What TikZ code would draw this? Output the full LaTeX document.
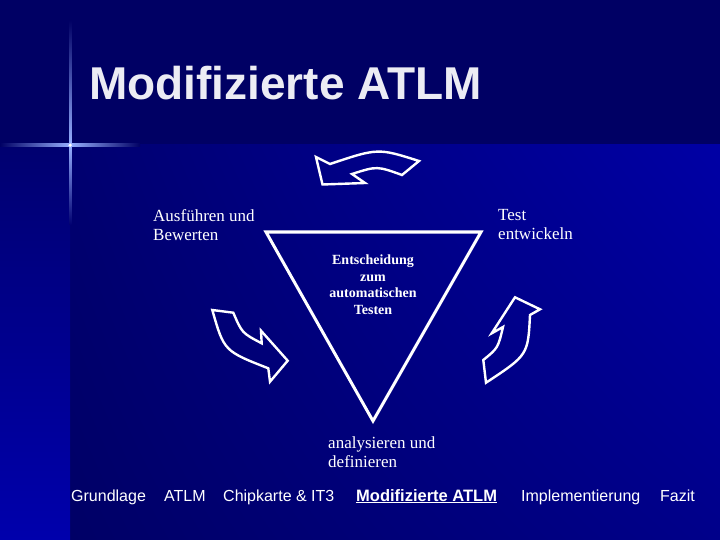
\documentclass[tikz,border=0pt]{standalone}
\usepackage{fontspec}
\setmainfont{Liberation Serif}
\setsansfont{Liberation Sans}
\usetikzlibrary{positioning,shadings}

\definecolor{bandtop}{RGB}{0,0,100}
\definecolor{bgul}{RGB}{0,0,112}
\definecolor{bgur}{RGB}{0,0,165}
\definecolor{bgll}{RGB}{0,0,102}
\definecolor{bglr}{RGB}{0,0,138}
\definecolor{stripbot}{RGB}{0,0,172}
\definecolor{flare}{RGB}{150,175,255}
\definecolor{titlecol}{RGB}{236,236,244}

\tikzstyle{lbl}=[text=white, inner sep=0pt, align=left, font=\fontsize{17}{19}\selectfont]

\begin{document}
\begin{tikzpicture}[x=1pt,y=-1pt]

\tikzstyle{nav}=[text=white, inner sep=0pt, anchor=base west, font=\sffamily\fontsize{16}{18}\selectfont]
\tikzstyle{curvarrow}=[draw=white, line width=2.4pt, line join=miter]
\tikzstyle{tri}=[draw=white, line width=3pt, line join=miter]

\useasboundingbox (0,0) rectangle (720,540);

% background
\fill[bandtop] (0,0) rectangle (720,145);
\shade[upper left=bgul, upper right=bgur, lower left=bgll, lower right=bglr] (70,145) rectangle (720,540);
\shade[top color=bgul, bottom color=stripbot] (0,145) rectangle (70,540);
\shade[left color=bandtop, right color=flare] (0,144) rectangle (70,146.5);
\shade[left color=flare, right color=bandtop] (70,144) rectangle (140,146.5);
\shade[top color=bandtop, bottom color=flare] (69,20) rectangle (71.5,145);
\shade[top color=flare, bottom color=bgul] (69,145) rectangle (71.5,225);
\fill[white] (70.2,145.2) circle (1.8);

\node (titel) [anchor=base west, inner sep=0pt, text=titlecol,
  font=\sffamily\bfseries\fontsize{46}{50}\selectfont] at (89,100) {Modifizierte ATLM};

% triangle
\coordinate (tl) at (266,232);
\coordinate (tr) at (481,232);
\coordinate (tb) at (373,421);
\draw[tri] (tl) -- (tr) -- (tb) -- cycle;

\node (entsch) [anchor=north, inner sep=0pt, text=white, align=center,
  font=\bfseries\fontsize{14}{16.7}\selectfont] at (373,254.5)
  {Entscheidung\\zum\\automatischen\\Testen};

\node (ausf) [lbl, anchor=north west] at (153,209.5) {Ausführen und\\Bewerten};
\node (test) [lbl, anchor=north west] at (498,209.5) {Test\\entwickeln};
\node (anal) [lbl, anchor=north west] at (328,436.5) {analysieren und\\definieren};

% curved arrows
\draw[curvarrow] (316,157) -- (330,164) .. controls (378,148) .. (419,161)
  -- (402,175) .. controls (377,166) .. (352,174) -- (365,183) -- (322.5,184.5) -- cycle;
\draw[curvarrow] (212.3,310) -- (233.3,312.7) .. controls (242,333) .. (261.7,343.3)
  -- (261,330.7) -- (287.7,360.7) -- (270,381.7) -- (268.3,368.3)
  .. controls (224,351) .. cycle;
\draw[curvarrow] (515,297.3) -- (540,309.3) -- (530,315) .. controls (528,355) .. (486,382.7)
  -- (483.3,360) .. controls (498,348) .. (503,327) -- (491.7,333.3) -- cycle;

% navigation
\node (nav1) [nav] at (71,501) {Grundlage};
\node (nav2) [nav] at (164,501) {ATLM};
\node (nav3) [nav] at (223,501) {Chipkarte \& IT3};
\node (nav4) [nav, font=\sffamily\bfseries\fontsize{16.5}{18}\selectfont] at (356,501) {\underline{Modifizierte ATLM}};
\node (nav5) [nav] at (521,501) {Implementierung};
\node (nav6) [nav] at (660,501) {Fazit};

\end{tikzpicture}
\end{document}
